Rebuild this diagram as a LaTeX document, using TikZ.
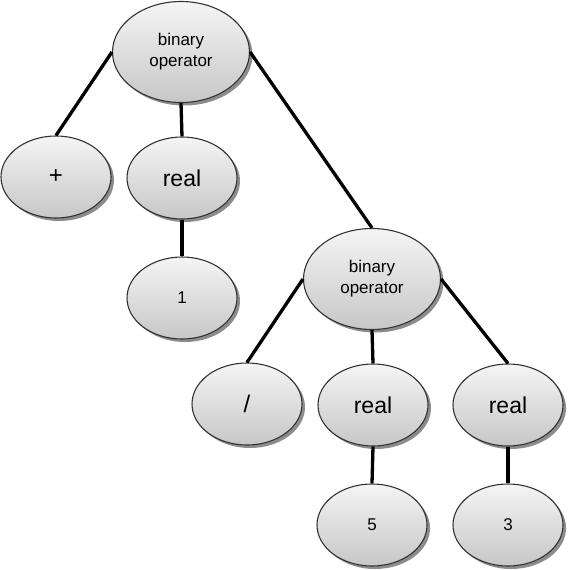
\documentclass[tikz,border=0pt]{standalone}
\usepackage{fontspec}
\setmainfont{Liberation Sans}
\usetikzlibrary{shapes.geometric,shadows}

\begin{document}
\begin{tikzpicture}[x=1pt,y=-1pt]
	\useasboundingbox (0,0) rectangle (568,570);
	\tikzstyle{every node}=[ellipse,draw=black!80,line width=1.1pt,top color=black!4,bottom color=black!22,
		drop shadow={shadow xshift=3pt,shadow yshift=-3pt,fill=black!45,opacity=1},
		inner sep=0pt,minimum width=110pt,minimum height=82pt,align=center,font=\fontsize{17}{21}\selectfont]
	\tikzstyle{binop}=[minimum width=137pt,minimum height=101pt]
	\tikzstyle{big}=[font=\fontsize{23}{26}\selectfont]
	\tikzstyle{sym}=[font=\fontsize{24}{28}\selectfont]
	% upper half
	\node[binop] at (181,52) (op1) {binary\\operator};
	\node[sym] at (56,177) (plus) {+};
	\node[big] at (182,178) (real1) {real};
	\node at (182,298) (one) {1};
	% lower half
	\node[binop] at (372,279) (op2) {binary\\operator};
	\node[sym] at (247,404) (slash) {/};
	\node[big] at (373,405) (real2) {real};
	\node[big] at (508,405) (real3) {real};
	\node at (372,525) (five) {5};
	\node at (508,525) (three) {3};
	\foreach \a/\b in {op1.west/plus.north,op1.south/real1.north,real1.south/one.north,
		op1.east/op2.north,op2.west/slash.north,op2.south/real2.north,op2.east/real3.north,
		real2.south/five.north,real3.south/three.north}
	{\draw[line width=3.3pt] (\a)--(\b);}
\end{tikzpicture}
\end{document}
